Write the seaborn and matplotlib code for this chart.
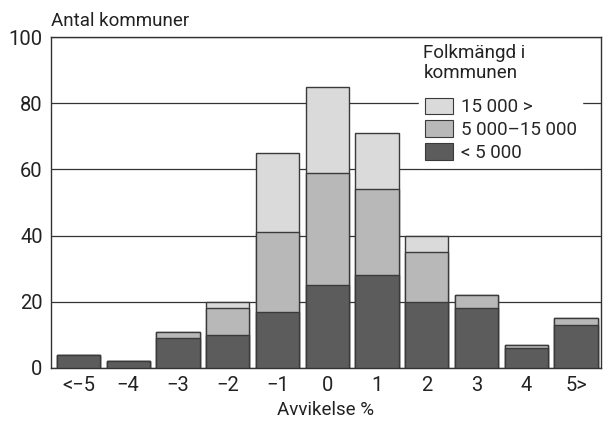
import pandas as pd
import matplotlib.pyplot as plt
import matplotlib.patches as mpatches
import seaborn as sns

# data
categories = ["<\u22125", "\u22124", "\u22123", "\u22122", "\u22121", "0", "1", "2", "3", "4", "5>"]
small = [4, 2, 9, 10, 17, 25, 28, 20, 18, 6, 13]      # < 5 000
medium = [0, 0, 2, 8, 24, 34, 26, 15, 4, 1, 2]        # 5 000-15 000
large = [0, 0, 0, 2, 24, 26, 17, 5, 0, 0, 0]          # 15 000 >
legend_labels = ["15 000 >", "5 000\u201315 000", "< 5 000"]

df = pd.DataFrame({"cat": categories, "small": small, "medium": medium, "large": large})
df["cum_mid"] = df["small"] + df["medium"]
df["cum_top"] = df["cum_mid"] + df["large"]

c_dark = "#5c5c5c"
c_mid = "#b8b8b8"
c_light = "#dadada"
edge = "#3a3a3a"

sns.set_style("white")
plt.rcParams["font.family"] = ["Roboto", "DejaVu Sans"]

fig = plt.figure(figsize=(6.03, 4.21), dpi=100)
ax = fig.add_axes([0.0846, 0.1259, 0.912, 0.7862])

# stacked bars drawn as overlaid cumulative totals
for col, color in [("cum_top", c_light), ("cum_mid", c_mid), ("small", c_dark)]:
    sns.barplot(data=df, x="cat", y=col, order=categories, color=color,
                width=0.87, edgecolor=edge, linewidth=1.0, ax=ax, zorder=3)

ax.set_ylim(0, 100)
ax.set_xlim(-0.55, 10.5)
ax.set_yticks([0, 20, 40, 60, 80, 100])
ax.yaxis.grid(True, color="#333333", linewidth=0.9)
ax.set_axisbelow(True)
for s in ax.spines.values():
    s.set_visible(True)
    s.set_color("#333333")
    s.set_linewidth(1.0)
ax.tick_params(axis="both", length=0, labelsize=14.5, colors="#222222", pad=6)
ax.set_xlabel("Avvikelse %", fontsize=13.5, color="#222222", labelpad=4)
ax.set_ylabel("")
ax.text(0.0, 1.02, "Antal kommuner", transform=ax.transAxes,
        fontsize=13.5, color="#222222", ha="left", va="bottom")

# legend title as separate text, legend entries below it
ax.text(0.677, 0.978, "Folkmängd i\nkommunen", transform=ax.transAxes,
        fontsize=13.5, color="#222222", ha="left", va="top", linespacing=1.15)

handles = [mpatches.Patch(facecolor=c, edgecolor=edge, linewidth=0.8)
           for c in (c_light, c_mid, c_dark)]
leg = ax.legend(handles, legend_labels,
                loc="upper left", bbox_to_anchor=(0.653, 0.862),
                frameon=True, fancybox=False, framealpha=1, edgecolor="white",
                fontsize=13.5, handlelength=1.5, handleheight=1.0,
                handletextpad=0.4, labelspacing=0.2, borderpad=0.3)
leg.get_frame().set_facecolor("white")
leg.set_zorder(5)

fig.savefig("out.png", dpi=100)
